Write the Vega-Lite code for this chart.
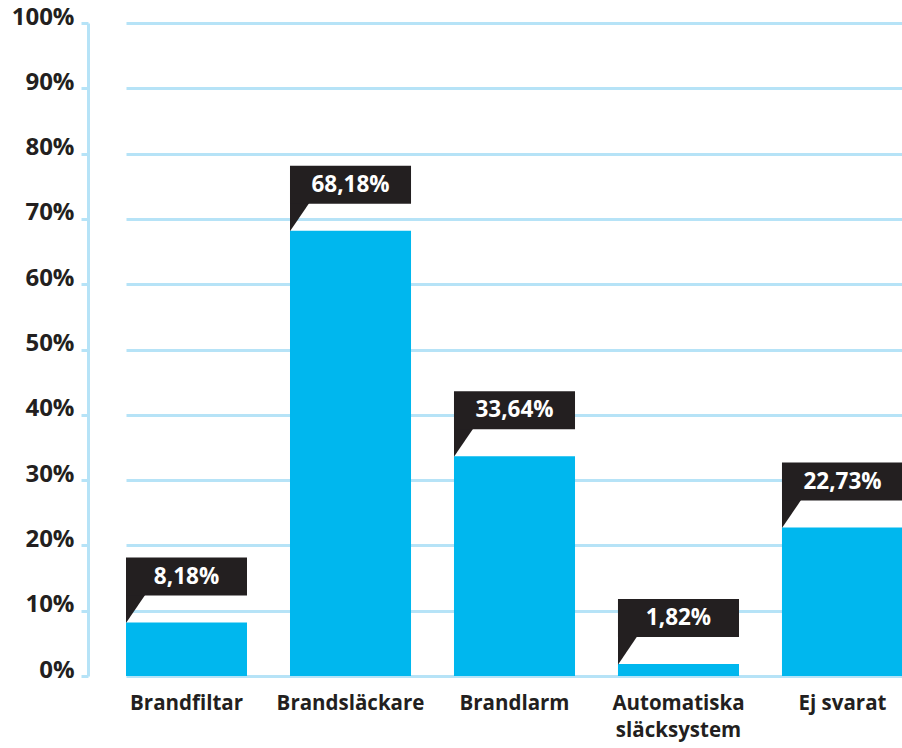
{
  "$schema": "https://vega.github.io/schema/vega-lite/v6.json",
  "autosize": "none",
  "width": 814,
  "height": 653,
  "padding": {"left": 88, "top": 23, "right": 0, "bottom": 72},
  "background": "white",
  "config": {"view": {"stroke": null}, "font": "Open Sans"},
  "data": {
    "values": [
      {"kategori": "Brandfiltar", "andel": 8.18, "etikett": "8,18%"},
      {"kategori": "Brandsläckare", "andel": 68.18, "etikett": "68,18%"},
      {"kategori": "Brandlarm", "andel": 33.64, "etikett": "33,64%"},
      {"kategori": "Automatiska släcksystem", "andel": 1.82, "etikett": "1,82%"},
      {"kategori": "Ej svarat", "andel": 22.73, "etikett": "22,73%"}
    ]
  },
  "encoding": {
    "x": {
      "field": "kategori",
      "type": "nominal",
      "sort": null,
      "scale": {"range": [38, 815], "paddingInner": 0.262, "paddingOuter": 0},
      "axis": {
        "title": null,
        "domain": false,
        "ticks": false,
        "labelAngle": 0,
        "labelFont": "Open Sans",
        "labelFontWeight": "bold",
        "labelFontSize": 20.5,
        "labelColor": "#231f20",
        "labelPadding": 17,
        "labelLineHeight": 27,
        "labelExpr": "datum.label == 'Automatiska släcksystem' ? ['Automatiska', 'släcksystem'] : datum.label"
      }
    },
    "y": {
      "field": "andel",
      "type": "quantitative",
      "scale": {"domain": [0, 100], "nice": false},
      "axis": {
        "title": null,
        "values": [0, 10, 20, 30, 40, 50, 60, 70, 80, 90, 100],
        "labelExpr": "datum.value + '%'",
        "labelFont": "Open Sans",
        "labelFontWeight": "bold",
        "labelFontSize": 24,
        "labelColor": "#231f20",
        "labelBaseline": "alphabetic",
        "labelOffset": 1,
        "labelPadding": 7,
        "grid": true,
        "gridColor": "#b6e3f7",
        "gridWidth": 3,
        "gridOpacity": 1,
        "ticks": true,
        "tickColor": "#b6e3f7",
        "tickWidth": 3,
        "tickSize": 7,
        "tickOpacity": 1,
        "domain": true,
        "domainColor": "#b6e3f7",
        "domainWidth": 3,
        "zindex": 0
      }
    }
  },
  "layer": [
    {
      "mark": {"type": "bar", "color": "#00b7ee"}
    },
    {
      "mark": {
        "type": "point",
        "shape": "M0,0.02L0,-1.04L0.72,-1.04Z",
        "size": 2916,
        "filled": true,
        "opacity": 1,
        "color": "#231f20",
        "strokeWidth": 0
      },
      "encoding": {
        "x": {"field": "kategori", "type": "nominal", "sort": null, "bandPosition": 0}
      }
    },
    {
      "mark": {
        "type": "rect",
        "color": "#231f20",
        "yOffset": -27,
        "y2Offset": -65
      },
      "encoding": {
        "y2": {"field": "andel"}
      }
    },
    {
      "mark": {
        "type": "text",
        "color": "white",
        "font": "Open Sans",
        "fontWeight": "bold",
        "fontSize": 22.5,
        "align": "center",
        "baseline": "middle",
        "yOffset": -46
      },
      "encoding": {
        "text": {"field": "etikett"}
      }
    }
  ]
}
